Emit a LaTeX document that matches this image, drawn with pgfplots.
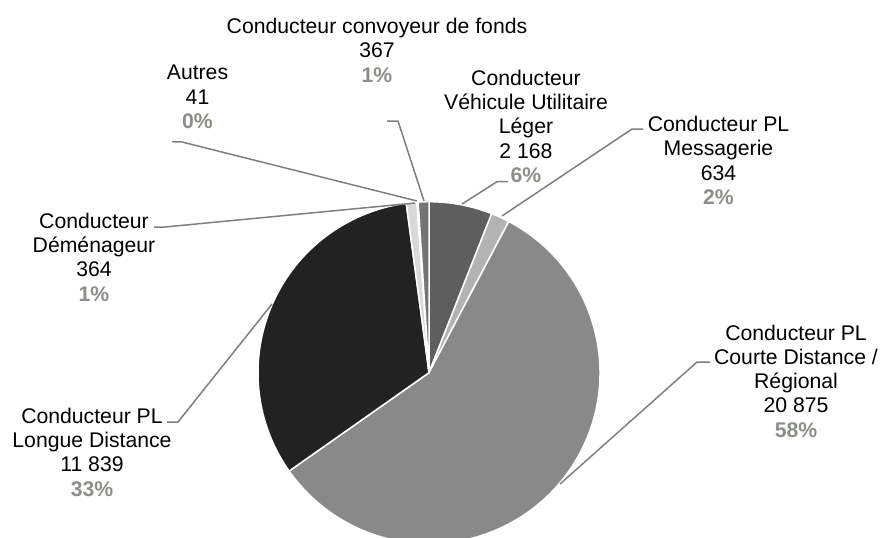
\documentclass[border=0pt]{standalone}
\usepackage{pgfplots}
\usepackage{pgfplotstable}
\pgfplotsset{compat=1.18}
\usepackage{fontspec}
\setmainfont{Liberation Sans}
\definecolor{c1}{HTML}{5E5E5E}
\definecolor{c2}{HTML}{B3B3B3}
\definecolor{c3}{HTML}{898989}
\definecolor{c4}{HTML}{222222}
\definecolor{c5}{HTML}{D9D9D9}
\definecolor{c6}{HTML}{F2F2F2}
\definecolor{c7}{HTML}{747474}
\definecolor{pct}{HTML}{8B9087}
\definecolor{leader}{HTML}{7F7F7F}
\tikzset{lab/.style={font=\fontsize{10.6}{12.15}\selectfont, align=center, inner sep=0pt}}

% slices clockwise from 12 o'clock
\pgfplotstableread{
value color
2168  c1
634   c2
20875 c3
11839 c4
364   c5
41    c6
367   c7
}\piedata

\begin{document}
\begin{tikzpicture}
\useasboundingbox (0,0) rectangle (441pt,268.5pt);
\pgfplotstablegetrowsof{\piedata}
\pgfmathtruncatemacro\nrows{\pgfplotsretval-1}
\def\total{0}
\pgfplotsforeachungrouped \i in {0,...,\nrows}{%
  \pgfplotstablegetelem{\i}{value}\of\piedata
  \edef\total{\fpeval{\total+\pgfplotsretval}}%
}
\begin{axis}[
  at={(0,0)}, anchor=south west,
  x=0.5pt, y=0.5pt,
  xmin=0, xmax=882, ymin=0, ymax=537,
  hide axis,
  clip=true,
  leaderline/.style={leader, line width=0.75pt, no markers, forget plot},
]
\def\curang{90}
\pgfplotsforeachungrouped \i in {0,...,\nrows}{%
  \pgfplotstablegetelem{\i}{value}\of\piedata
  \edef\endang{\fpeval{round(\curang-360*\pgfplotsretval/\total,4)}}%
  \pgfplotstablegetelem{\i}{color}\of\piedata
  \let\col\pgfplotsretval
  \edef\temp{\noexpand\fill[fill=\col, draw=white, line width=0.75pt, line join=round]
     (axis cs:429,164.3) -- ++(\curang:85.5pt)
     arc[start angle=\curang, end angle=\endang, radius=85.5pt] -- cycle;}%
  \temp
  \global\let\curang\endang
}

% leader lines
\addplot[leaderline] coordinates {(387,416) (398,416) (424,336)};
\addplot[leaderline] coordinates {(172,395.3) (182,395) (417,336)};
\addplot[leaderline] coordinates {(508,355.3) (497,355.3) (462,333)};
\addplot[leaderline] coordinates {(643,408) (632,408) (502,321)};
\addplot[leaderline] coordinates {(710,175) (697,175) (560,53)};
\addplot[leaderline] coordinates {(154,310) (165,310) (415,334)};
\addplot[leaderline] coordinates {(167,115) (178,115) (272,233)};

% labels
\node[lab] at (axis cs:377,486.6) {Conducteur convoyeur de fonds\\367\\{\bfseries\color{pct}1\%}};
\node[lab] at (axis cs:197.5,440) {Autres\\41\\{\bfseries\color{pct}0\%}};
\node[lab] at (axis cs:526,410.6) {Conducteur\\Véhicule Utilitaire\\Léger\\2 168\\{\bfseries\color{pct}6\%}};
\node[lab] at (axis cs:718.5,376.7) {Conducteur PL\\Messagerie\\634\\{\bfseries\color{pct}2\%}};
\node[lab] at (axis cs:796,155.9) {Conducteur PL\\Courte Distance /\\Régional\\20 875\\{\bfseries\color{pct}58\%}};
\node[lab] at (axis cs:94,280) {Conducteur\\Déménageur\\364\\{\bfseries\color{pct}1\%}};
\node[lab] at (axis cs:92,85) {Conducteur PL\\Longue Distance\\11 839\\{\bfseries\color{pct}33\%}};
\end{axis}
\end{tikzpicture}
\end{document}
